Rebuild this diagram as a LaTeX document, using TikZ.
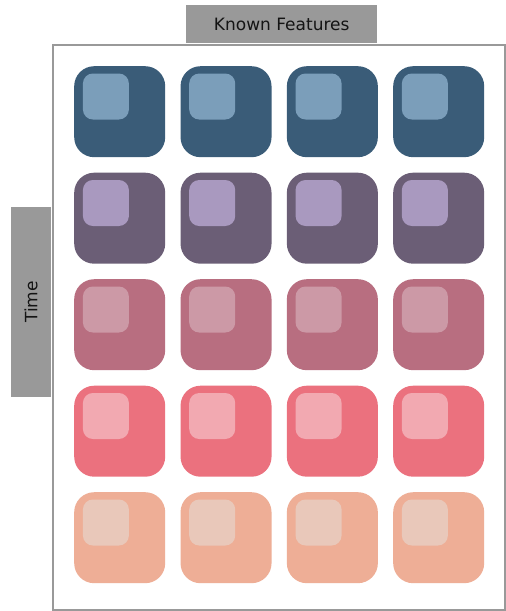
\documentclass[tikz,border=0pt]{standalone}
\usepackage{fontspec}
\setmainfont{DejaVu Sans}
\usetikzlibrary{positioning}
\definecolor{framegray}{HTML}{999999}
\definecolor{rowA}{HTML}{3A5C78}
\definecolor{rowAhi}{HTML}{7B9EBA}
\definecolor{rowB}{HTML}{6B5E76}
\definecolor{rowBhi}{HTML}{A999BF}
\definecolor{rowC}{HTML}{B86E80}
\definecolor{rowChi}{HTML}{CC99A6}
\definecolor{rowD}{HTML}{EB717E}
\definecolor{rowDhi}{HTML}{F2A9B1}
\definecolor{rowE}{HTML}{EEAE96}
\definecolor{rowEhi}{HTML}{E9C8BA}

\begin{document}
\begin{tikzpicture}[
        x=1pt, y=-1pt,
        panel/.style={rectangle, draw=framegray, line width=2.8pt, fill=white, inner sep=0pt, anchor=north west, minimum width=452pt, minimum height=565pt},
        tab/.style={rectangle, fill=framegray, inner sep=0pt, font=\fontsize{17}{20}\selectfont, text=black!92},
        tile/.style={rectangle, rounded corners=20pt, inner sep=0pt, minimum size=91pt, anchor=north west},
        gloss/.style={rectangle, rounded corners=10pt, inner sep=0pt, minimum size=46pt, anchor=north west}
    ]
    \useasboundingbox (0,0) rectangle (506,611);

    %% --- Frame ---
    \node[panel] (panel) at (51.5, 43.5) {};

    %% --- Axis tabs ---
    \node[tab, minimum width=191pt, minimum height=38pt, anchor=north west] (features) at (186, 5) {Known Features};
    \node[tab, rotate=90, minimum width=190pt, minimum height=40pt] (time) at (31, 302) {Time};

    %% --- Tile grid: 5 rows (time) x 4 columns (features) ---
    \foreach \col/\hi [count=\r from 0] in {rowA/rowAhi, rowB/rowBhi, rowC/rowChi, rowD/rowDhi, rowE/rowEhi} {
        \foreach \c in {0,...,3} {
            \node[tile, fill=\col] (tile-\r-\c) at (74 + 106.33*\c, 66 + 106.5*\r) {};
            \node[gloss, fill=\hi] (gloss-\r-\c) at ([xshift=8.7pt, yshift=-7.3pt]tile-\r-\c.north west) {};
        }
    }

\end{tikzpicture}
\end{document}
